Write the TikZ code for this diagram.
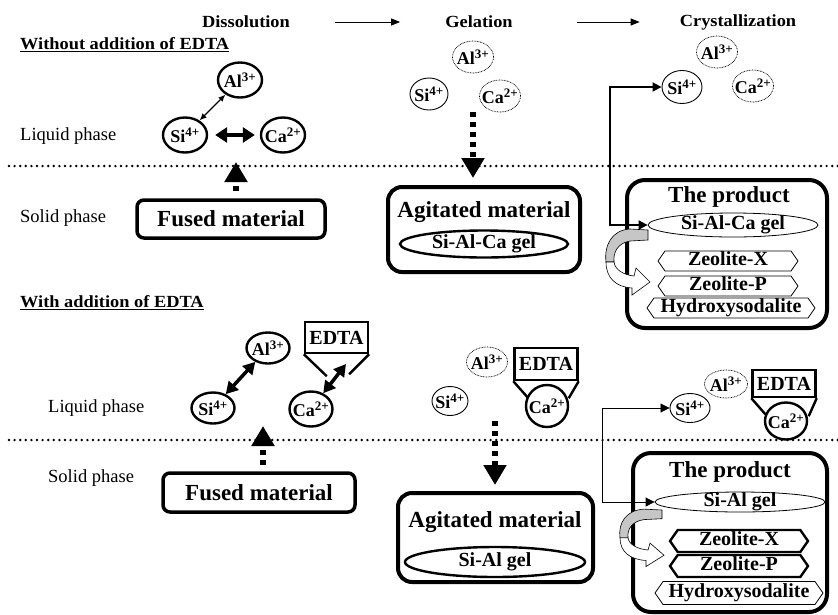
\documentclass[tikz,border=0pt]{standalone}
\usepackage{fontspec}
\setmainfont{Liberation Serif}
\newfontfamily\widefont[FakeStretch=1.08]{Liberation Serif}
\usetikzlibrary{arrows.meta,shapes.geometric,shapes.symbols}

\newcommand\chg[1]{\textsuperscript{\fontsize{13}{13}\selectfont #1}}

\tikzset{
  hdr/.style={inner sep=0pt,font=\widefont\bfseries\fontsize{17}{19}\selectfont},
  phase/.style={inner sep=0pt,font=\fontsize{18.5}{20}\selectfont},
  ion/.style={ellipse,draw,fill=white,line width=2.4pt,inner sep=0pt,inner xsep=-4pt,
    minimum width=44pt,minimum height=35pt,font=\bfseries\fontsize{18}{18}\selectfont},
  ionthin/.style={ion,line width=0.9pt},
  iondot/.style={ion,line width=0.7pt,dash pattern=on 0.8pt off 0.8pt,
    minimum width=41pt,minimum height=32pt},
  edta/.style={draw,fill=white,line width=2.4pt,inner sep=1pt,minimum width=63pt,
    minimum height=31pt,font=\bfseries\fontsize{20}{20}\selectfont},
  funnel/.style={line width=2.4pt},
  matbox/.style={draw,rounded corners=7pt,line width=3.5pt,
    font=\bfseries\fontsize{23}{24}\selectfont},
  bigbox/.style={draw,rounded corners=14pt,line width=4pt},
  bigtext/.style={inner sep=0pt,font=\bfseries\fontsize{23}{24}\selectfont},
  gelnode/.style={ellipse,draw,line width=0.8pt,inner sep=0pt,text height=11pt,
    text depth=3pt,font=\bfseries\fontsize{20}{20}\selectfont},
  zeo/.style={signal,signal to=west and east,signal pointer angle=110,draw,
    line width=0.8pt,inner sep=1pt,text height=11pt,text depth=3pt,
    minimum width=140pt,minimum height=20pt,font=\bfseries\fontsize{20}{20}\selectfont},
  sepline/.style={line width=2.7pt,dash pattern=on 0pt off 5.6pt,line cap=round},
  hdrarrow/.style={line width=1pt,-{Triangle[length=9pt,width=7pt]}},
  thindbl/.style={line width=1.3pt,{Latex[length=7pt,width=6pt]}-{Latex[length=7pt,width=6pt]}},
  fatdbl/.style={line width=4pt,{Triangle[length=12pt,width=15pt]}-{Triangle[length=12pt,width=15pt]}},
  fatdbl2/.style={line width=3.5pt,{Triangle[length=12pt,width=13pt]}-{Triangle[length=12pt,width=13pt]}},
  fatdash/.style={line width=6pt,dash pattern=on 5pt off 5pt,-{Triangle[length=20pt,width=22pt]}},
  link/.style={{Triangle[length=9pt,width=9pt]}-{Triangle[length=9pt,width=9pt]}},
  turnarrow/.pic={
    \fill[gray!45,draw=black,line width=0.6pt] (0,0) -- (0,10) -- (-18,11)
      .. controls (-30,13) and (-35,22) .. (-34,32) -- (-42,32)
      .. controls (-44,15) and (-36,0) .. (-18,-1) -- cycle;
    \filldraw[fill=white,line width=0.6pt] (-42,32)
      .. controls (-42,48) and (-32,57) .. (-16,58) -- (-16,65) -- (2,52)
      -- (-12,38) -- (-14,46) .. controls (-24,45) and (-33,40) .. (-34,32) -- cycle;
  }
}

\begin{document}
\begin{tikzpicture}[x=1pt,y=-1pt]
  \useasboundingbox (0,0) rectangle (838,614);

  % stages
  \node[hdr] (dis) at (246,22) {Dissolution};
  \node[hdr] (gel) at (479,22) {Gelation};
  \node[hdr] (cry) at (738,22) {Crystallization};
  \draw[hdrarrow,shorten <=45pt,shorten >=45pt] (dis) -- (gel);
  \draw[hdrarrow,shorten <=64pt,shorten >=40pt] (gel) -- (cry);

  \draw[sepline] (9,166) -- (838,166);
  \draw[sepline] (9,440) -- (838,440);

  % without EDTA
  \node[hdr,anchor=west] (t1) at (20,45) {\underline{Without addition of EDTA}};
  \node[phase,anchor=west] (liq1) at (20,136) {Liquid phase};
  \node[phase,anchor=west] (sol1) at (20,218) {Solid phase};

  \node[ion] (al1) at (240,80) {Al\chg{3+}};
  \node[ion] (si1) at (185,135) {Si\chg{4+}};
  \node[ion] (ca1) at (283,135) {Ca\chg{2+}};
  \draw[thindbl] (si1) -- (al1);
  \draw[fatdbl,shorten <=7pt,shorten >=5pt] (si1) -- (ca1);
  \node[matbox,minimum width=188pt,minimum height=38pt] (fus1) at (231,219) {Fused material};
  \coordinate (up1) at (236,162);
  \draw[fatdash,shorten <=7pt] (fus1.north -| up1) -- (up1);

  \node[iondot] (al2) at (473,57) {Al\chg{3+}};
  \node[ionthin,minimum width=38pt,minimum height=32pt] (si2) at (429,94) {Si\chg{4+}};
  \node[iondot] (ca2) at (500,96) {Ca\chg{2+}};
  \node[bigbox,minimum width=192pt,minimum height=85pt] (agi1) at (484,229.5) {};
  \node[bigtext] (agt1) at (484,212) {Agitated material};
  \node[gelnode,line width=2.4pt,minimum width=168pt,minimum height=27pt] (agel1) at (484,244) {Si-Al-Ca gel};
  \coordinate (dn1) at (473,112);
  \draw[fatdash,shorten >=7pt] (dn1) -- (agi1.north -| dn1);

  \node[iondot] (al3) at (717,52) {Al\chg{3+}};
  \node[ionthin,minimum width=40pt,minimum height=33pt] (si3) at (682,87) {Si\chg{4+}};
  \node[iondot] (ca3) at (753,86) {Ca\chg{2+}};
  \node[bigbox,rounded corners=18pt,minimum width=200pt,minimum height=148pt] (prod1) at (727,254) {};
  \node[bigtext] (prt1) at (729,197) {The product};
  \node[gelnode,minimum width=170pt,minimum height=24pt] (pgel1) at (733,225) {Si-Al-Ca gel};
  \node[zeo] (zx1) at (728,261) {Zeolite-X};
  \node[zeo] (zp1) at (728,286) {Zeolite-P};
  \node[zeo,minimum width=168pt] (hs1) at (731,308) {Hydroxysodalite};
  \draw[link,line width=2pt] (pgel1.west) -- ++(-38,0) |- (si3.west);
  \pic at (648,230) {turnarrow};

  % with EDTA
  \node[hdr,anchor=west] (t2) at (20,303) {\underline{With addition of EDTA}};
  \node[phase,anchor=west] (liq2) at (48,408) {Liquid phase};
  \node[phase,anchor=west] (sol2) at (48,478) {Solid phase};

  \node[ion,minimum width=43pt,minimum height=31pt] (al4) at (268,348) {Al\chg{3+}};
  \node[ion,minimum width=43pt,minimum height=31pt] (si4) at (213,408) {Si\chg{4+}};
  \node[ion,minimum width=43pt,minimum height=35pt] (ca4) at (311,409) {Ca\chg{2+}};
  \node[edta] (ed4) at (336.5,337.5) {EDTA};
  \draw[funnel] (ed4.south west) -- ++(23,22) (ed4.south east) -- ++(-20,20);
  \coordinate (fn4) at (346,364);
  \draw[fatdbl2] (si4) -- (al4);
  \draw[fatdbl2] (ca4) -- (fn4);
  \node[matbox,minimum width=192pt,minimum height=39pt] (fus2) at (259,492.5) {Fused material};
  \coordinate (up2) at (263,426);
  \draw[fatdash,shorten <=6pt] (fus2.north -| up2) -- (up2);

  \node[iondot,minimum height=30pt] (al5) at (487,362) {Al\chg{3+}};
  \node[edta,minimum height=32pt] (ed5) at (546,364) {EDTA};
  \draw[funnel] (ed5.south west) -- ++(15,17) (ed5.south east) -- ++(-10,17);
  \node[ion,minimum width=42pt,minimum height=42pt] (ca5) at (547,406) {Ca\chg{2+}};
  \node[ionthin,minimum width=36pt,minimum height=29pt] (si5) at (450,401) {Si\chg{4+}};
  \node[bigbox,minimum width=195pt,minimum height=89pt] (agi2) at (495.5,537.5) {};
  \node[bigtext] (agt2) at (495,522) {Agitated material};
  \node[gelnode,line width=2.4pt,minimum width=180pt,minimum height=30pt] (agel2) at (495,562) {Si-Al gel};
  \coordinate (dn2) at (495,421);
  \draw[fatdash,shorten >=6pt] (dn2) -- (agi2.north -| dn2);

  \node[iondot,minimum width=43pt,minimum height=28pt] (al6) at (726,384) {Al\chg{3+}};
  \node[edta,minimum height=27pt] (ed6) at (784,383.5) {EDTA};
  \draw[funnel] (ed6.south west) -- ++(14,16) (ed6.south east) -- ++(-8,18);
  \node[ion,minimum width=42pt,minimum height=37pt] (ca6) at (786,421) {Ca\chg{2+}};
  \node[ionthin,minimum width=40pt,minimum height=29pt] (si6) at (690,408) {Si\chg{4+}};
  \node[bigbox,rounded corners=18pt,minimum width=194pt,minimum height=159pt] (prod2) at (730,532.5) {};
  \node[bigtext] (prt2) at (730,472) {The product};
  \node[gelnode,minimum width=170pt,minimum height=20pt] (pgel2) at (740,502) {Si-Al gel};
  \node[zeo,line width=2.4pt,minimum width=138pt,minimum height=22pt] (zx2) at (739,541) {Zeolite-X};
  \node[zeo,line width=2.4pt,minimum width=138pt,minimum height=22pt] (zp2) at (739,566) {Zeolite-P};
  \node[zeo,minimum width=168pt,minimum height=23pt] (hs2) at (739,593) {Hydroxysodalite};
  \draw[link,line width=0.8pt] (pgel2.west) -- ++(-52,0) |- (si6.west);
  \pic[yscale=0.87] at (662,510) {turnarrow};
\end{tikzpicture}
\end{document}
